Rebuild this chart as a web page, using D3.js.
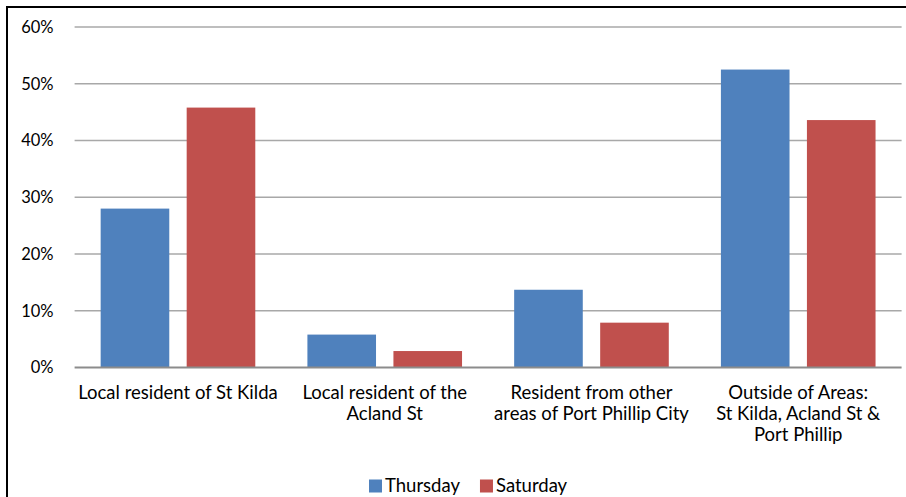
<!DOCTYPE html>
<html>
<head>
<meta charset="utf-8">
<script src="https://cdn.jsdelivr.net/npm/d3@7/dist/d3.min.js"></script>
<style>
  html, body { margin: 0; padding: 0; background: #fff; }
  svg { display: block; }
  text { font-family: Lato, "Open Sans", sans-serif; fill: #000; }
</style>
</head>
<body>
<svg id="chart" width="906" height="497"></svg>
<script>
// Visitor origin by survey day
const categories = [
  ["Local resident of St Kilda"],
  ["Local resident of the", "Acland St"],
  ["Resident from other", "areas of Port Phillip City"],
  ["Outside of Areas:", "St Kilda, Acland St &", "Port Phillip"]
];
const seriesNames = ["Thursday", "Saturday"];
const seriesColors = ["#4F81BD", "#C0504D"];
const thursday = [0.28, 0.058, 0.137, 0.525];
const saturday = [0.458, 0.029, 0.079, 0.436];
const yTicks = [0, 0.1, 0.2, 0.3, 0.4, 0.5, 0.6];

const series = [thursday, saturday];
const svg = d3.select("#chart");

const plot = { left: 74.6, right: 901.6, top: 27, bottom: 367.5 };

// Outer frame (clipped by the page on the right and bottom)
svg.append("rect")
  .attr("x", 7).attr("y", 7)
  .attr("width", 920).attr("height", 520)
  .attr("fill", "none").attr("stroke", "#000").attr("stroke-width", 2);

const x0 = d3.scaleBand()
  .domain(d3.range(categories.length))
  .range([plot.left, plot.right])
  .padding(0);

const x1 = d3.scaleBand()
  .domain(d3.range(seriesNames.length))
  .range([0, x0.bandwidth()])
  .paddingInner(0.2023)
  .paddingOuter(0.303);

const y = d3.scaleLinear()
  .domain([0, 0.6])
  .range([plot.bottom, plot.top]);

// Gridlines
svg.append("g")
  .selectAll("line")
  .data(yTicks.filter(d => d > 0))
  .join("line")
  .attr("x1", plot.left).attr("x2", plot.right)
  .attr("y1", d => y(d)).attr("y2", d => y(d))
  .attr("stroke", "#A8A8A8").attr("stroke-width", 1.5);

// Y axis tick labels
const yAxis = d3.axisLeft(y)
  .tickValues(yTicks)
  .tickFormat(d3.format(".0%"))
  .tickSize(0)
  .tickPadding(0);

svg.append("g")
  .attr("transform", `translate(${plot.left - 21},0)`)
  .call(yAxis)
  .call(g => g.select(".domain").remove())
  .call(g => g.selectAll("text")
    .attr("font-size", 16.5)
    .attr("font-family", "Lato, sans-serif")
    .attr("fill", "#000"));

// Bars
const groups = svg.append("g")
  .selectAll("g")
  .data(categories.map((c, i) => i))
  .join("g")
  .attr("transform", i => `translate(${x0(i)},0)`);

groups.selectAll("rect")
  .data(i => series.map((s, k) => ({ k, v: s[i] })))
  .join("rect")
  .attr("x", d => x1(d.k))
  .attr("width", x1.bandwidth())
  .attr("y", d => y(d.v))
  .attr("height", d => y(0) - y(d.v))
  .attr("fill", d => seriesColors[d.k]);

// Category axis line
svg.append("line")
  .attr("x1", plot.left).attr("x2", plot.right)
  .attr("y1", y(0)).attr("y2", y(0))
  .attr("stroke", "#8C8C8C").attr("stroke-width", 1.8);

// Category labels
const xLabels = svg.append("g");
categories.forEach((lines, i) => {
  const t = xLabels.append("text")
    .attr("text-anchor", "middle")
    .attr("font-size", 18.5)
    .attr("x", x0(i) + x0.bandwidth() / 2)
    .attr("y", 399);
  lines.forEach((ln, j) => {
    t.append("tspan")
      .attr("x", x0(i) + x0.bandwidth() / 2)
      .attr("dy", j === 0 ? 0 : 21)
      .text(ln);
  });
});

// Legend
const legend = svg.append("g").attr("transform", "translate(369,0)");
let lx = 0;
seriesNames.forEach((name, k) => {
  const item = legend.append("g").attr("transform", `translate(${lx},0)`);
  item.append("rect")
    .attr("x", 0).attr("y", 479.5)
    .attr("width", 13).attr("height", 13)
    .attr("fill", seriesColors[k]);
  const txt = item.append("text")
    .attr("x", 16).attr("y", 492)
    .attr("font-size", 18.5)
    .text(name);
  lx += 16 + txt.node().getComputedTextLength() + 20;
});
</script>
</body>
</html>
